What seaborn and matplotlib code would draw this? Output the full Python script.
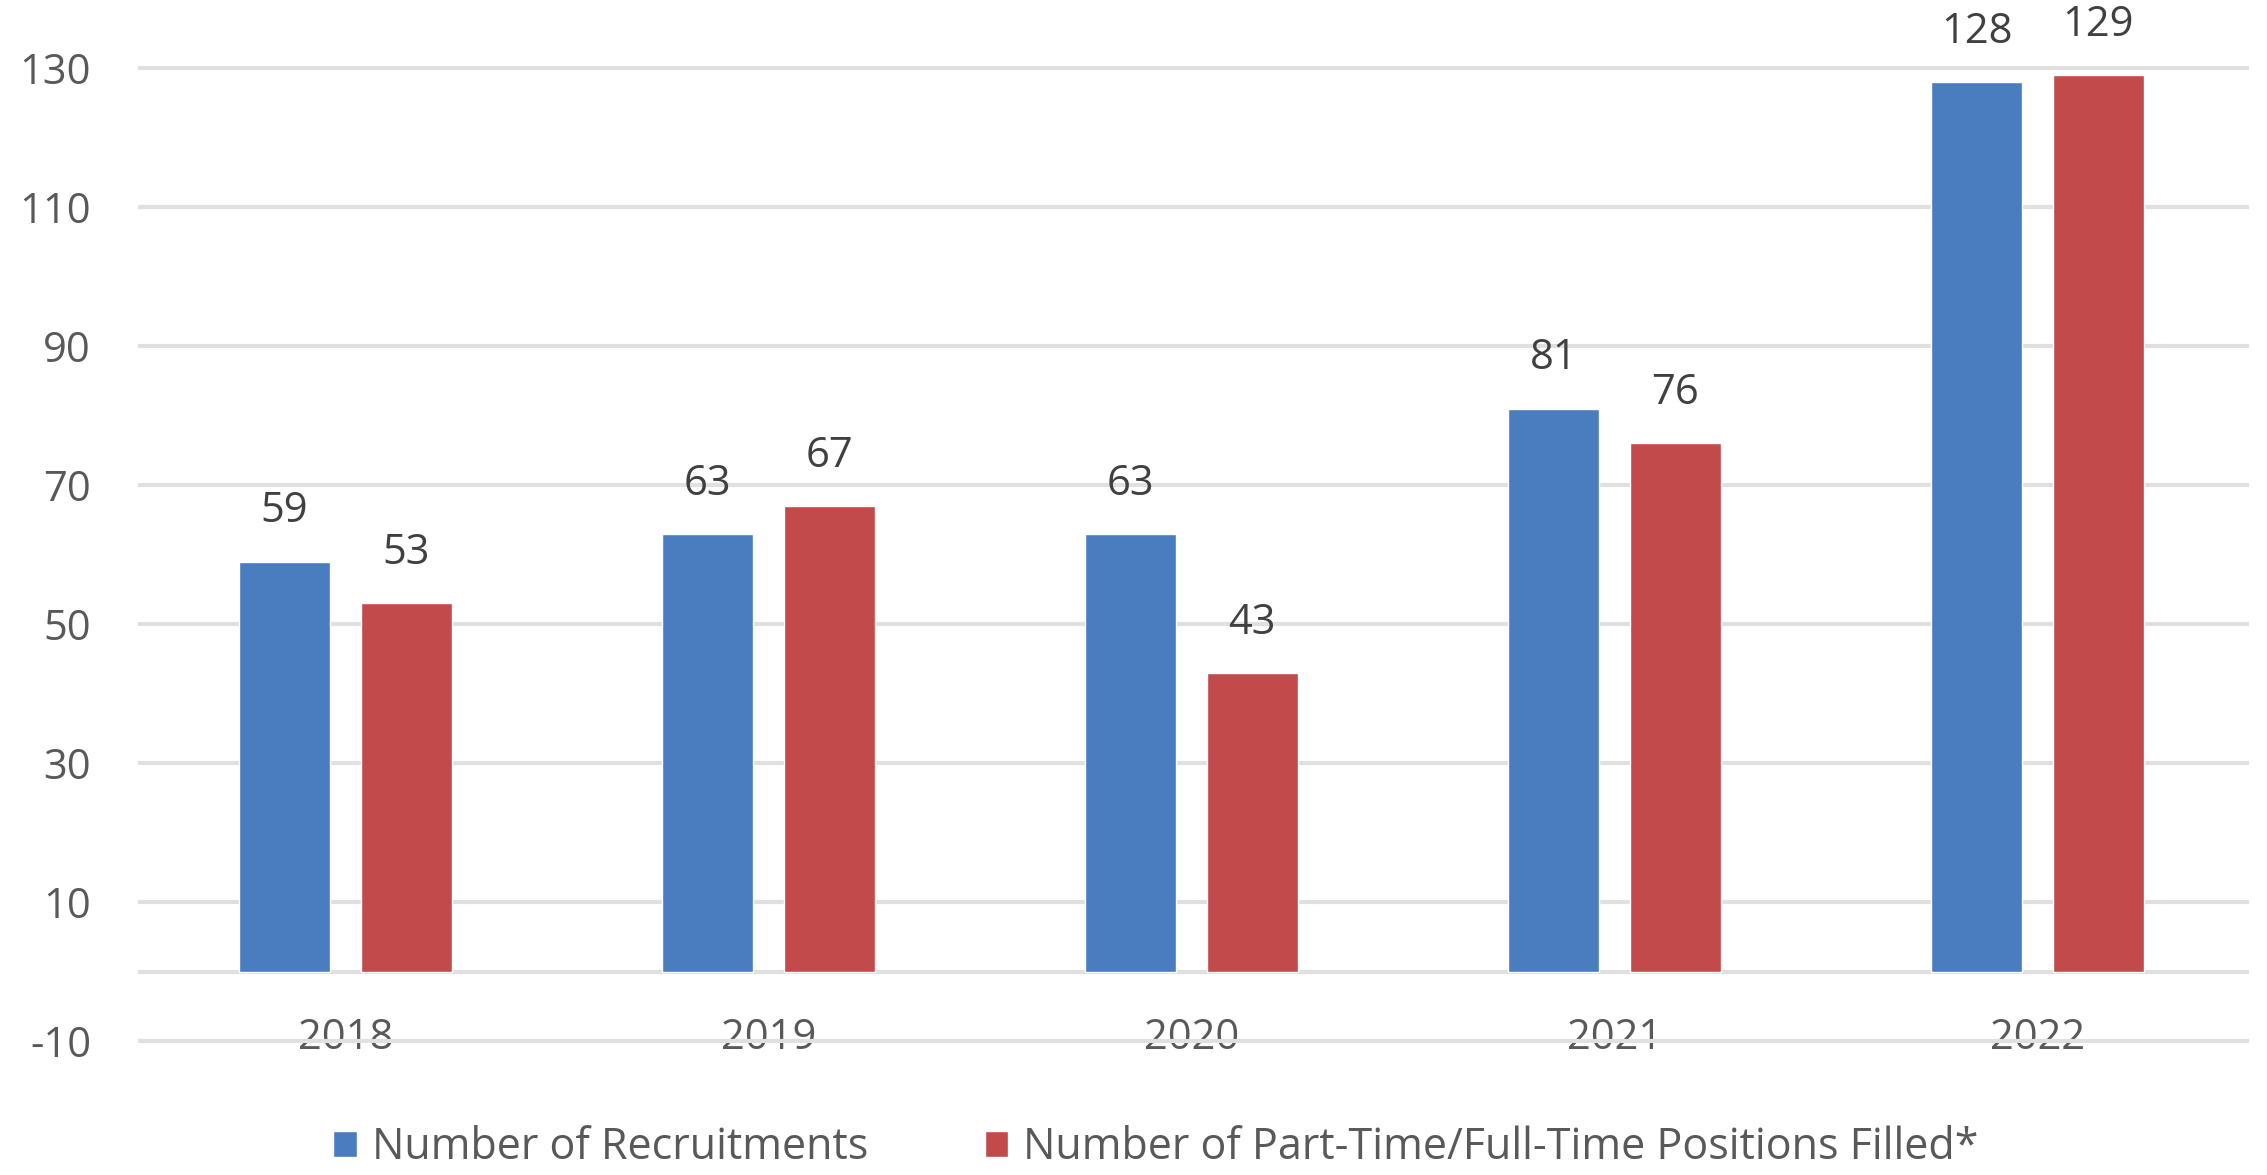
import matplotlib
matplotlib.use("Agg")
import matplotlib.pyplot as plt
import seaborn as sns
import pandas as pd

years = ["2018", "2019", "2020", "2021", "2022"]
recruitments = [59, 63, 63, 81, 128]
positions_filled = [53, 67, 43, 76, 129]
series_names = ["Number of Recruitments", "Number of Part-Time/Full-Time Positions Filled*"]
yticks = [-10, 10, 30, 50, 70, 90, 110, 130]

df = pd.DataFrame({
    "Year": years * 2,
    "Value": recruitments + positions_filled,
    "Series": [series_names[0]] * len(years) + [series_names[1]] * len(years),
})

sns.set_theme(style="white")
plt.rcParams["font.family"] = ["Open Sans", "DejaVu Sans"]

FS = 30
TXT = "#595959"

fig = plt.figure(figsize=(22.67, 11.75), dpi=100)
ax = fig.add_axes([0.061, 0.112, 0.931, 0.832])

sns.barplot(data=df, x="Year", y="Value", hue="Series", order=years,
            hue_order=series_names, palette=["#4A7CC0", "#C24A4A"],
            width=0.576, gap=0.25, ax=ax, legend=True, saturation=1)

ax.set_ylim(-10.3, 130.3)
ax.set_xlim(-0.49, 4.5)
ax.set_yticks(yticks)
ax.set_yticklabels([str(t) for t in yticks])
ax.yaxis.grid(True, color="#E0E0E0", linewidth=3)
ax.set_axisbelow(True)
ax.axhline(0, color="#E0E0E0", linewidth=3, zorder=0.5)
for s in ax.spines.values():
    s.set_visible(False)
ax.set_xlabel("")
ax.set_ylabel("")
ax.tick_params(axis="y", length=0, pad=34, labelsize=FS, labelcolor=TXT)
ax.tick_params(axis="x", length=0, pad=-19, labelsize=FS, labelcolor=TXT)

for c in ax.containers:
    ax.bar_label(c, padding=21, fontsize=FS, color="#404040")

handles, labels = ax.get_legend_handles_labels()
ax.get_legend().remove()
fig.legend(handles, labels, loc="center", bbox_to_anchor=(0.51, 0.023), ncol=2,
           frameon=False, fontsize=31, labelcolor=TXT, handlelength=0.55,
           handleheight=0.55, handletextpad=0.35, columnspacing=2.7)

fig.savefig("out.png", dpi=100, facecolor="white")
